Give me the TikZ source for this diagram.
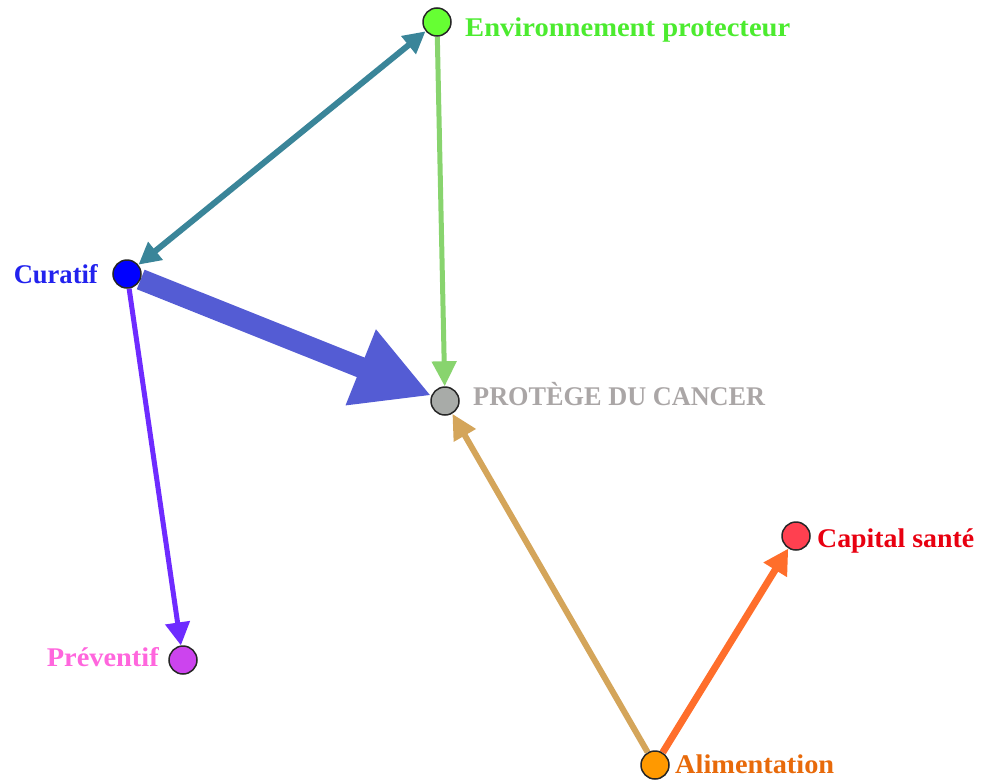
\documentclass[tikz,border=0pt]{standalone}
\usepackage{fontspec}
\usepackage{graphicx}
\setmainfont{Liberation Serif}
\usetikzlibrary{arrows.meta,backgrounds}
\definecolor{envfill}{HTML}{66FF33}
\definecolor{envtext}{HTML}{4CEB2F}
\definecolor{curfill}{HTML}{0000FF}
\definecolor{curtext}{HTML}{2222EE}
\definecolor{profill}{HTML}{A8ABA8}
\definecolor{protext}{HTML}{AAA6A6}
\definecolor{capfill}{HTML}{FF4050}
\definecolor{captext}{HTML}{E80010}
\definecolor{prefill}{HTML}{CC44EE}
\definecolor{pretext}{HTML}{FF66DD}
\definecolor{alifill}{HTML}{FF9900}
\definecolor{alitext}{HTML}{E86A0A}
\definecolor{eteal}{HTML}{3A8599}
\definecolor{egreen}{HTML}{88D46E}
\definecolor{eblue}{HTML}{545CD4}
\definecolor{epurple}{HTML}{6E2BFF}
\definecolor{etan}{HTML}{D4A55A}
\definecolor{eorange}{HTML}{FF6E2B}
\newcommand{\fitw}[2]{\resizebox{#1}{\height}{#2}}
\begin{document}
\begin{tikzpicture}[x=1pt,y=-1pt,
  dot/.style={circle,draw=black!85,line width=1.5pt,minimum size=28pt,inner sep=0pt},
  lbl/.style={font=\fontsize{27}{27}\selectfont\bfseries,inner sep=0pt},
  edge/.style={line cap=butt}]
\useasboundingbox (0,0) rectangle (984,779);
\node[dot,fill=envfill] (env) at (437,22) {};
\node[dot,fill=curfill] (cur) at (127,274) {};
\node[dot,fill=profill] (pro) at (445,401) {};
\node[dot,fill=capfill] (cap) at (796,536) {};
\node[dot,fill=prefill] (pre) at (183,660) {};
\node[dot,fill=alifill] (ali) at (655,765) {};
\node[lbl,text=envtext,anchor=base west] (tenv) at (465,36) {\fitw{325pt}{Environnement protecteur}};
\node[lbl,text=curtext,anchor=base east] (tcur) at (98,283) {\fitw{84pt}{Curatif}};
\node[lbl,text=protext,anchor=base west] (tpro) at (473,405) {\fitw{292pt}{PROTÈGE DU CANCER}};
\node[lbl,text=captext,anchor=base west] (tcap) at (817,547) {\fitw{157pt}{Capital santé}};
\node[lbl,text=pretext,anchor=base east] (tpre) at (159,666) {\fitw{112pt}{Préventif}};
\node[lbl,text=alitext,anchor=base west] (tali) at (675,773) {\fitw{159pt}{Alimentation}};
\begin{scope}[on background layer]
\draw[edge,eteal,line width=6pt,{Triangle[length=22pt,width=22pt]}-{Triangle[length=22pt,width=22pt]}] (cur) -- (env);
\draw[edge,egreen,line width=5pt,-{Triangle[length=25pt,width=24pt]}] (env) -- (pro);
\draw[edge,eblue,line width=21pt,-{Triangle[length=76pt,width=76pt]}] (cur) -- (pro);
\draw[edge,epurple,line width=5pt,-{Triangle[length=23pt,width=24pt]}] (cur) -- (pre);
\draw[edge,etan,line width=6pt,-{Triangle[length=25pt,width=24pt]}] (ali) -- (pro);
\draw[edge,eorange,line width=7pt,-{Triangle[length=25pt,width=26pt]}] (ali) -- (cap);
\end{scope}
\end{tikzpicture}
\end{document}
